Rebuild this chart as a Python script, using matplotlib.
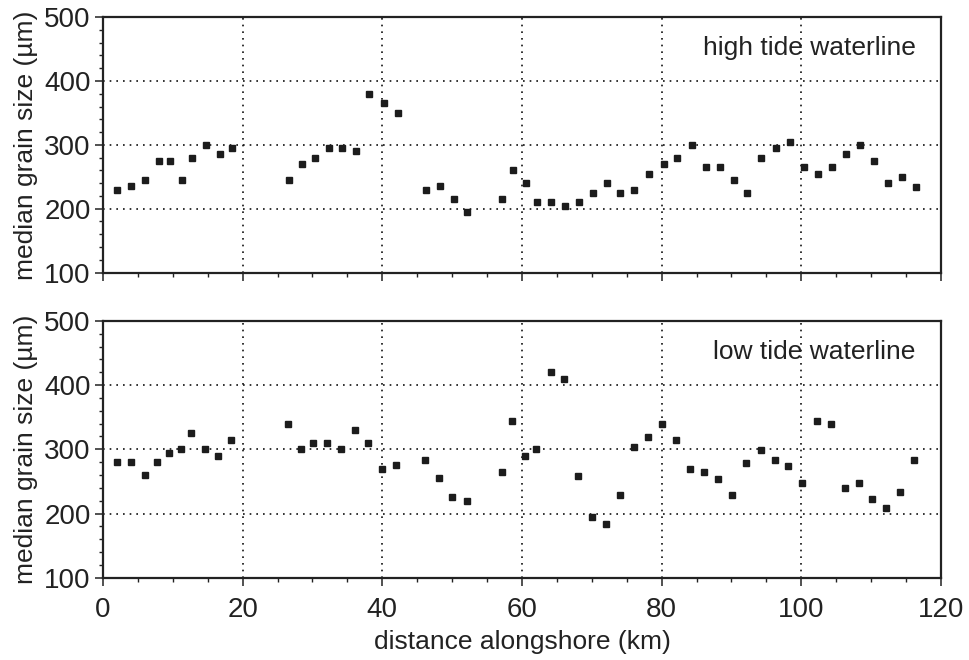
import matplotlib

matplotlib.use("Agg")
import matplotlib.pyplot as plt
from matplotlib.ticker import MultipleLocator

plt.rcParams["font.family"] = ["Liberation Sans", "DejaVu Sans"]

# distance alongshore (km) and median grain size (um)
high_km = [2, 4, 6, 8, 9.6, 11.3, 12.8, 14.8, 16.7, 18.5,
           26.7, 28.5, 30.3, 32.3, 34.2, 36.2, 38.1, 40.3, 42.2,
           46.3, 48.3, 50.3, 52.2, 57.2, 58.7, 60.6, 62.2, 64.2, 66.1, 68.2,
           70.2, 72.2, 74.1, 76.1, 78.2, 80.3, 82.2, 84.3, 86.3, 88.3,
           90.3, 92.3, 94.3, 96.4, 98.4, 100.4, 102.4, 104.4, 106.4, 108.4,
           110.4, 112.4, 114.4, 116.4]
high_um = [230, 235, 245, 275, 275, 245, 280, 300, 285, 295,
           245, 270, 280, 295, 295, 290, 380, 365, 350,
           230, 235, 215, 195, 215, 260, 240, 210, 210, 205, 210,
           225, 240, 225, 230, 255, 270, 280, 300, 265, 265,
           245, 225, 280, 295, 305, 265, 255, 265, 285, 300,
           275, 240, 250, 234]

low_km = [2, 4, 6, 7.8, 9.4, 11.1, 12.6, 14.6, 16.4, 18.3,
          26.5, 28.3, 30.1, 32.1, 34.1, 36.1, 37.9, 40, 42,
          46.1, 48.1, 50, 52.1, 57.1, 58.6, 60.5, 62, 64.1, 66, 68,
          70, 72, 74, 76, 78, 80, 82.1, 84.1, 86.1, 88.1,
          90.1, 92.1, 94.2, 96.2, 98.1, 100.1, 102.2, 104.2, 106.2, 108.2,
          110.2, 112.2, 114.2, 116.2]
low_um = [280, 280, 260, 280, 295, 300, 325, 300, 290, 315,
          340, 300, 310, 310, 300, 330, 310, 270, 275,
          284, 255, 225, 219, 264, 344, 289, 300, 420, 410, 259,
          194, 184, 229, 304, 319, 339, 314, 269, 264, 254,
          229, 279, 299, 284, 274, 248, 344, 339, 239, 248,
          223, 208, 233, 283]

panels = [
    (high_km, high_um, "high tide waterline"),
    (low_km, low_um, "low tide waterline"),
]

ink = "#222222"
fs = 19

fig = plt.figure(figsize=(9.7, 6.6), dpi=100)
boxes = [[0.1062, 0.587, 0.8638, 0.387], [0.1062, 0.1247, 0.8638, 0.389]]

for (km, um, title), box in zip(panels, boxes):
    ax = fig.add_axes(box)
    ax.plot(km, um, linestyle="none", marker="s", markersize=4.8,
            color="#1c1c1c", zorder=3)
    ax.set_xlim(0, 120)
    ax.set_ylim(100, 500)
    ax.xaxis.set_major_locator(MultipleLocator(20))
    ax.xaxis.set_minor_locator(MultipleLocator(5))
    ax.yaxis.set_major_locator(MultipleLocator(100))
    ax.yaxis.set_minor_locator(MultipleLocator(20))
    ax.grid(True, which="major", color="#111111", linestyle=(0, (1, 3)),
            linewidth=1.2)
    ax.tick_params(which="major", direction="out", length=6, width=1.1,
                   labelsize=20, colors=ink, pad=3)
    ax.tick_params(axis="x", which="major", pad=8)
    ax.tick_params(which="minor", direction="out", length=3, width=1.0,
                   colors=ink)
    for spine in ax.spines.values():
        spine.set_linewidth(1.6)
        spine.set_color(ink)
    ax.set_ylabel("median grain size (\u00b5m)", fontsize=fs, color=ink)
    ax.yaxis.set_label_coords(-0.077, 0.5)
    ax.text(0.970, 0.88, title, transform=ax.transAxes, ha="right",
            va="center", fontsize=fs, color=ink)
    if title.startswith("high"):
        ax.tick_params(axis="x", labelbottom=False)
    else:
        ax.set_xlabel("distance alongshore (km)", fontsize=fs, color=ink,
                      labelpad=5)

fig.savefig("out.png", dpi=100)
plt.close(fig)
